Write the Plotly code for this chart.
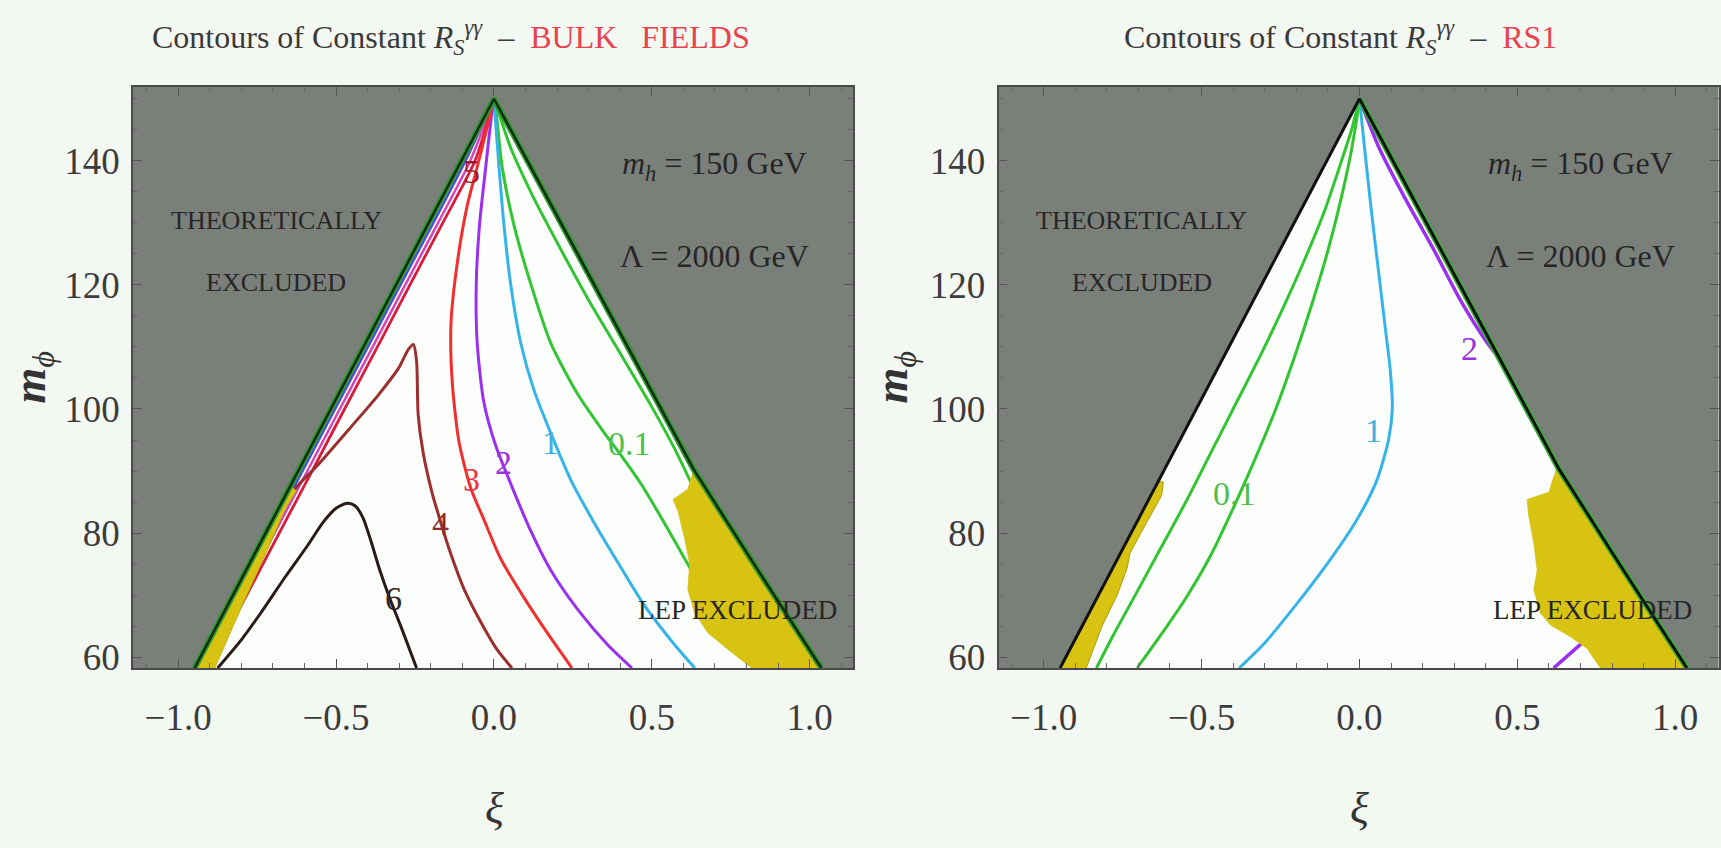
import plotly.graph_objects as go

# ---------------- axes ----------------
XI_RANGE = [-1.143, 1.137]
M_RANGE = [58.25, 151.9]
XI_TICKS = [-1.0, -0.5, 0.0, 0.5, 1.0]
M_TICKS = [60, 80, 100, 120, 140]

# ---------------- theoretical boundary (apex at m_phi = m_h) ----------------
BOUND_XI = [-0.948, 0.0, 0.478, 0.632, 0.83, 1.037]
BOUND_M = [58.25, 150.0, 104.9, 90.3, 74.5, 58.25]

# ---------------- LEP excluded patches ----------------
LEP_L_BULK_XI = [-0.948, -0.645, -0.626, -0.66, -0.72, -0.80, -0.884]
LEP_L_BULK_M = [58.25, 87.7, 86.8, 84.0, 77.0, 68.0, 58.25]
LEP_R_BULK_XI = [0.632, 0.83, 1.037, 0.816, 0.752, 0.678, 0.636, 0.614, 0.620, 0.604, 0.583, 0.567, 0.612]
LEP_R_BULK_M = [90.3, 74.5, 58.25, 58.25, 60.8, 63.9, 67.1, 70.9, 75.0, 79.1, 83.5, 85.4, 87.0]

LEP_L_RS1_XI = [-0.948, -0.637, -0.621, -0.626, -0.674, -0.726, -0.736, -0.767, -0.815, -0.865]
LEP_L_RS1_M = [58.25, 88.5, 88.2, 86.1, 81.7, 76.8, 74.3, 70.0, 65.0, 58.25]
LEP_R_RS1_XI = [0.625, 0.632, 0.83, 1.037, 0.763, 0.721, 0.668, 0.605, 0.573, 0.552, 0.563, 0.552, 0.536, 0.531, 0.600, 0.616]
LEP_R_RS1_M = [91.0, 90.3, 74.5, 58.25, 58.25, 61.4, 63.3, 65.2, 67.1, 70.9, 74.0, 78.4, 82.8, 85.4, 86.6, 89.2]

# ---------------- contours: bulk fields ----------------
BULK_01A_XI = [0.0, 0.011, 0.053, 0.127, 0.212, 0.307, 0.403, 0.498, 0.572, 0.625]
BULK_01A_M = [150, 148.4, 142.1, 133.9, 125.7, 116.9, 108.7, 100.5, 93.6, 88.0]
BULK_01B_XI = [0.0, 0.007, 0.026, 0.064, 0.117, 0.180, 0.265, 0.350, 0.41, 0.466, 0.540, 0.625]
BULK_01B_M = [150, 147.8, 139.0, 129.5, 120.1, 110.6, 102.4, 96.1, 92.0, 87.9, 81.6, 74.0]
BULK_1_XI = [0.0, 0.003, 0.016, 0.032, 0.053, 0.085, 0.127, 0.180, 0.244, 0.318, 0.392, 0.477, 0.572, 0.636]
BULK_1_M = [150, 147.8, 139.0, 129.5, 120.1, 110.6, 103.0, 96.1, 88.5, 81.6, 75.3, 68.3, 62.0, 58.25]
BULK_2_XI = [0.0, -0.008, -0.026, -0.046, -0.056, -0.053, -0.032, 0.005, 0.064, 0.117, 0.180, 0.265, 0.360, 0.437]
BULK_2_M = [150, 147.2, 139.0, 129.5, 120.1, 110.6, 101.1, 94.2, 86.6, 80.3, 74.0, 67.7, 62.0, 58.25]
BULK_3_XI = [0.0, -0.016, -0.053, -0.085, -0.117, -0.136, -0.132, -0.111, -0.074, -0.032, 0.021, 0.095, 0.169, 0.247]
BULK_3_M = [150, 146.5, 139.0, 132.7, 123.2, 113.8, 104.3, 94.8, 87.3, 82.2, 75.9, 69.6, 63.9, 58.25]
BULK_4_XI = [-0.71, -0.632, -0.557, -0.451, -0.367, -0.303, -0.271, -0.255, -0.245, -0.240,
             -0.224, -0.197, -0.176, -0.141, -0.095, -0.040, 0.010, 0.057]
BULK_4_M = [80.0, 87.0, 91.0, 97.2, 102.2, 106.5, 109.6, 110.4, 107.7, 99.1,
            92.9, 86.7, 83.0, 77.3, 71.0, 65.5, 61.2, 58.25]
EDGE_M = [150, 140, 130, 120, 110, 100, 90, 80, 70, 58.25]
BULK_5_XI = [0.0, -0.06, -0.162, -0.266, -0.369, -0.473, -0.576, -0.680, -0.783, -0.905]
BULK_MAG_XI = [0.0, -0.075, -0.177, -0.281, -0.384, -0.488, -0.591, -0.695, -0.798, -0.92]
BULK_BLUE_XI = [0.0, -0.09, -0.192, -0.296, -0.399, -0.503, -0.606, -0.710, -0.813, -0.935]
BULK_6_XI = [-0.875, -0.80, -0.74, -0.66, -0.59, -0.54, -0.50, -0.465, -0.44, -0.415, -0.39, -0.36, -0.33, -0.295, -0.245]
BULK_6_M = [58.25, 62.8, 67.0, 73.0, 78.0, 81.8, 84.0, 84.8, 84.4, 82.5, 78.8, 73.8, 69.5, 65.0, 58.25]

# ---------------- contours: RS1 ----------------
RS1_01A_XI = [-0.833, -0.78, -0.71, -0.63, -0.55, -0.47, -0.39, -0.31, -0.24, -0.17, -0.11, -0.06, -0.025, 0.0]
RS1_01A_M = [58.25, 63.5, 70, 77.5, 85, 93, 101, 109, 116.5, 124.5, 132, 139.5, 145, 150]
RS1_01B_XI = [-0.704, -0.63, -0.55, -0.47, -0.40, -0.33, -0.265, -0.205, -0.15, -0.10, -0.06, -0.028, -0.008, 0.0]
RS1_01B_M = [58.25, 63.5, 69.5, 76.5, 84, 92, 100, 108.5, 117, 125.5, 133.5, 141, 147, 150]
RS1_1_XI = [-0.381, -0.30, -0.20, -0.10, -0.01, 0.055, 0.092, 0.104, 0.098, 0.08, 0.058, 0.036, 0.016, 0.0]
RS1_1_M = [58.25, 62.3, 68.5, 75.2, 82.0, 88.5, 95.0, 100.0, 106.0, 113.8, 123.2, 132.7, 142.1, 150]
RS1_2A_XI = [0.0, 0.062, 0.145, 0.235, 0.32, 0.40, 0.445]
RS1_2A_M = [150, 142.1, 133.9, 125.7, 117.5, 111.0, 108.0]
RS1_2B_XI = [0.615, 0.665, 0.725]
RS1_2B_M = [58.25, 60.5, 63.2]

# contour labels: (text, xi, m, colour)
BULK_LABELS = [("0.1", 0.43, 94.4, "#4cbf4c"), ("1", 0.178, 94.6, "#3fb0e0"),
               ("2", 0.03, 91.3, "#9933dd"), ("3", -0.07, 88.7, "#ee3344"),
               ("4", -0.17, 81.5, "#8e2a2a"), ("5", -0.07, 138.3, "#9a1a2a"),
               ("6", -0.318, 69.4, "#2e2626")]
RS1_LABELS = [("0.1", -0.395, 86.4, "#4cbf4c"), ("1", 0.045, 96.6, "#3fb0e0"),
              ("2", 0.35, 109.8, "#9933dd")]

# ---------------- styling ----------------
FONT = "Liberation Serif, Times New Roman, serif"
PAGE_BG = "#f4f8f2"
GRAY = "#7b7f7a"
ALLOWED = "#fcfefb"
YELLOW = "#d8c312"
GREEN = "#33c433"
CYAN = "#36b4ea"
PURPLE = "#9b30f0"
RED = "#f03030"
BROWN = "#9c2f2f"
CRIMSON = "#d81b3c"
MAGENTA = "#d844b8"
BLUE = "#4a4ae8"
DARK = "#2a1a1a"
TEXT = "#262626"

W, H = 1721, 848
Y_DOM = [0.20283, 0.89623]
X_DOM_L = [0.07728, 0.49564]
X_DOM_R = [0.5802, 0.99855]

fig = go.Figure()


def line(xs, ys, color, width, xa, ya, smooth=True):
    shape = dict(shape="spline", smoothing=0.7) if smooth else dict(shape="linear")
    fig.add_trace(go.Scatter(x=xs, y=ys, mode="lines", xaxis=xa, yaxis=ya,
                             line=dict(color=color, width=width, **shape),
                             hoverinfo="skip", showlegend=False))


def patch(xs, ys, color, xa, ya, edge=None):
    fig.add_trace(go.Scatter(x=xs, y=ys, mode="lines", fill="toself", fillcolor=color,
                             xaxis=xa, yaxis=ya,
                             line=dict(color=edge or color, width=0.8),
                             hoverinfo="skip", showlegend=False))


# ===== left panel: bulk fields =====
patch(BOUND_XI, BOUND_M, ALLOWED, "x", "y")
line(BULK_BLUE_XI, EDGE_M, BLUE, 2.5, "x", "y")
line(BULK_MAG_XI, EDGE_M, MAGENTA, 2.5, "x", "y")
line(BULK_5_XI, EDGE_M, CRIMSON, 2.8, "x", "y")
line(BULK_01A_XI, BULK_01A_M, GREEN, 3, "x", "y")
line(BULK_01B_XI, BULK_01B_M, GREEN, 3, "x", "y")
line(BULK_1_XI, BULK_1_M, CYAN, 3, "x", "y")
line(BULK_2_XI, BULK_2_M, PURPLE, 3, "x", "y")
line(BULK_3_XI, BULK_3_M, RED, 3, "x", "y")
line(BULK_4_XI, BULK_4_M, BROWN, 3, "x", "y")
line(BULK_6_XI, BULK_6_M, DARK, 3, "x", "y")
patch(LEP_L_BULK_XI, LEP_L_BULK_M, YELLOW, "x", "y", edge="#b9a812")
patch(LEP_R_BULK_XI, LEP_R_BULK_M, YELLOW, "x", "y")
line(BOUND_XI, BOUND_M, "#2f9a2f", 6, "x", "y", smooth=False)
line(BOUND_XI, BOUND_M, "#142a14", 2.5, "x", "y", smooth=False)

# ===== right panel: RS1 =====
patch(BOUND_XI, BOUND_M, ALLOWED, "x2", "y2")
line(RS1_01A_XI, RS1_01A_M, GREEN, 3, "x2", "y2")
line(RS1_01B_XI, RS1_01B_M, GREEN, 3, "x2", "y2")
line(RS1_1_XI, RS1_1_M, CYAN, 3, "x2", "y2")
line(RS1_2A_XI, RS1_2A_M, PURPLE, 3.5, "x2", "y2")
line(RS1_2B_XI, RS1_2B_M, PURPLE, 3.5, "x2", "y2")
patch(LEP_L_RS1_XI, LEP_L_RS1_M, YELLOW, "x2", "y2", edge="#9a8c10")
patch(LEP_R_RS1_XI, LEP_R_RS1_M, YELLOW, "x2", "y2")
line(BOUND_XI[1:], BOUND_M[1:], "#35b035", 6, "x2", "y2", smooth=False)
line(BOUND_XI, BOUND_M, "#111111", 3, "x2", "y2", smooth=False)

annotations = []


def label(text, x, y, xref, yref, size, color=TEXT, **kw):
    kw.setdefault("xanchor", "center")
    kw.setdefault("yanchor", "middle")
    annotations.append(dict(text=text, x=x, y=y, xref=xref, yref=yref, showarrow=False,
                            font=dict(family=FONT, size=size, color=color), **kw))


for xa, ya, labs in (("x", "y", BULK_LABELS), ("x2", "y2", RS1_LABELS)):
    for t, xv, mv, c in labs:
        label(t, xv, mv, xa, ya, 34, c)
    label("THEORETICALLY", -0.69, 130.3, xa, ya, 26)
    label("EXCLUDED", -0.69, 120.4, xa, ya, 26)
    label("<i>m</i><sub><i>h</i></sub> = 150 GeV", 0.70, 139.3, xa, ya, 32)
    label("\u039b = 2000 GeV", 0.70, 124.7, xa, ya, 32)

label("LEP EXCLUDED", 0.77, 67.6, "x", "y", 27)
label("LEP EXCLUDED", 0.737, 67.6, "x2", "y2", 27)

# panel titles
TITLE_MAIN = "Contours of Constant <i>R</i><sub><i>S</i></sub><sup><i>\u03b3\u03b3</i></sup>\u00a0\u00a0\u2013\u00a0\u00a0"
label(TITLE_MAIN + "<span style='color:#e8424f'>BULK\u00a0\u00a0\u00a0FIELDS</span>",
      150 / W, 1 - 38 / H, "paper", "paper", 32, "#3a3a3a", xanchor="left")
label(TITLE_MAIN + "<span style='color:#e8424f'>RS1</span>",
      1122 / W, 1 - 38 / H, "paper", "paper", 32, "#3a3a3a", xanchor="left")

# axis titles
for xc in (494 / W, 1359.5 / W):
    label("<i>\u03be</i>", xc, 1 - 818 / H, "paper", "paper", 44, "#333")
for xc in (33 / W, 895 / W):
    label("<b><i>m</i></b><sub><i>\u03d5</i></sub>", xc, 1 - 382 / H, "paper", "paper", 46, "#333",
          textangle=-90)

axis_common = dict(showgrid=False, zeroline=False, showline=True, linecolor="#4a4a4a",
                   linewidth=1.5, mirror="allticks", ticks="inside", ticklen=9, tickwidth=1.2,
                   tickcolor="#555", tickfont=dict(family=FONT, size=37, color="#3c3c3c"))

xa = dict(axis_common, range=XI_RANGE, tickvals=XI_TICKS, tickformat=".1f",
          ticklabelstandoff=16,
          minor=dict(ticks="inside", ticklen=5, dtick=0.1, tick0=0, tickcolor="#666", showgrid=False))
ya = dict(axis_common, range=M_RANGE, tickvals=M_TICKS, ticklabelstandoff=4,
          minor=dict(ticks="inside", ticklen=5, dtick=5, tick0=60, tickcolor="#666", showgrid=False))

fig.update_layout(
    width=W, height=H,
    margin=dict(l=0, r=0, t=0, b=0),
    paper_bgcolor=PAGE_BG, plot_bgcolor=GRAY,
    xaxis=dict(xa, domain=X_DOM_L, anchor="y"),
    yaxis=dict(ya, domain=Y_DOM, anchor="x"),
    xaxis2=dict(xa, domain=X_DOM_R, anchor="y2"),
    yaxis2=dict(ya, domain=Y_DOM, anchor="x2"),
    annotations=annotations,
    showlegend=False,
)

fig.write_html("out.html")
